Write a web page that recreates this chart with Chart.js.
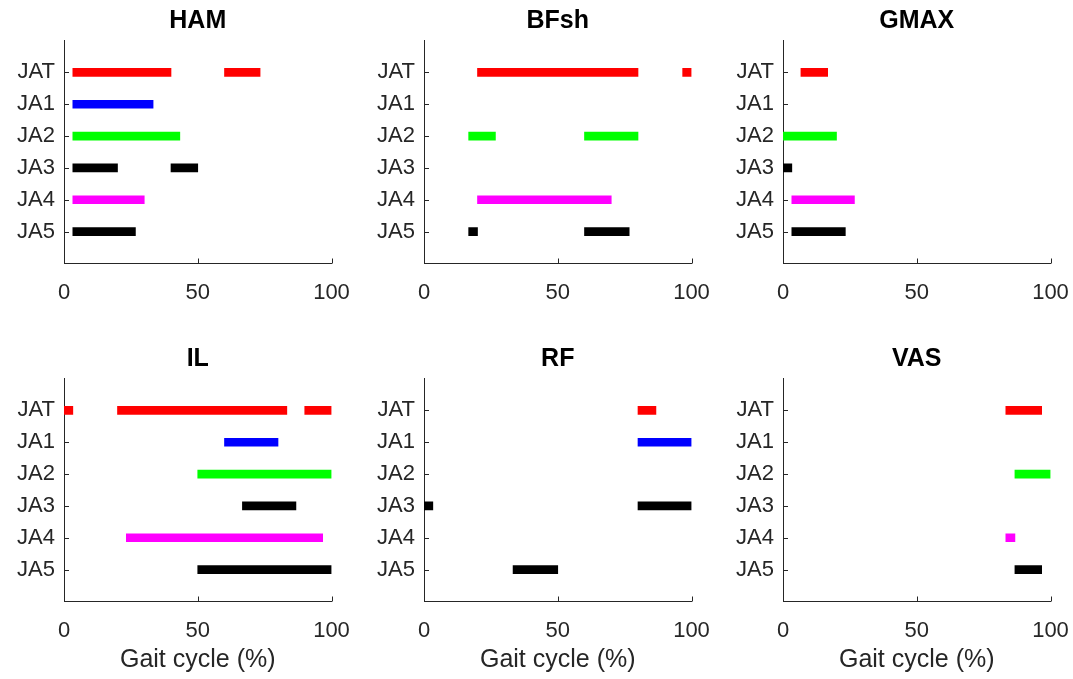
<!DOCTYPE html>
<html>
<head>
<meta charset="utf-8">
<script src="https://cdn.jsdelivr.net/npm/chart.js@4.4.1/dist/chart.umd.min.js"></script>
<style>
  html, body { margin: 0; padding: 0; background: #fff; overflow: hidden; }
  #wrap { position: relative; width: 1073px; height: 679px; overflow: hidden; }
  #wrap canvas { position: absolute; }
</style>
</head>
<body>
<div id="wrap"></div>
<script>
const categories = ['JAT', 'JA1', 'JA2', 'JA3', 'JA4', 'JA5'];
const rowColors = ['#ff0000', '#0000ff', '#00ff00', '#000000', '#ff00ff', '#000000'];
const muscles = ['HAM', 'BFsh', 'GMAX', 'IL', 'RF', 'VAS'];
const xTicks = [0, 50, 100];
const xLabel = 'Gait cycle (%)';

// active windows per category, [start, end] in % gait cycle
const ham = [
  [[3.3, 40], [60, 73.3]],
  [[3.3, 33.3]],
  [[3.3, 43.3]],
  [[3.3, 20], [40, 50]],
  [[3.3, 30]],
  [[3.3, 26.7]]
];
const bfsh = [
  [[20, 80], [96.7, 100]],
  [],
  [[16.7, 26.7], [60, 80]],
  [],
  [[20, 70]],
  [[16.7, 20], [60, 76.7]]
];
const gmax = [
  [[6.7, 16.7]],
  [],
  [[0, 20]],
  [[0, 3.3]],
  [[3.3, 26.7]],
  [[3.3, 23.3]]
];
const il = [
  [[0, 3.3], [20, 83.3], [90, 100]],
  [[60, 80]],
  [[50, 100]],
  [[66.7, 86.7]],
  [[23.3, 96.7]],
  [[50, 100]]
];
const rf = [
  [[80, 86.7]],
  [[80, 100]],
  [],
  [[0, 3.3], [80, 100]],
  [],
  [[33.3, 50]]
];
const vas = [
  [[83.3, 96.7]],
  [],
  [[86.7, 100]],
  [],
  [[83.3, 86.7]],
  [[86.7, 96.7]]
];
const segments = [ham, bfsh, gmax, il, rf, vas];

const FONT = "'Liberation Sans', Arial, Helvetica, sans-serif";
const AXIS = '#262626';

// inward tick marks like the original
const innerTicks = {
  id: 'innerTicks',
  beforeDatasetsDraw(chart) {
    const { ctx, chartArea: a, scales: { x, y } } = chart;
    ctx.save();
    ctx.strokeStyle = AXIS;
    ctx.lineWidth = 1;
    ctx.beginPath();
    y.ticks.forEach((t, i) => {
      if (!t.label) return;
      const py = Math.round(y.getPixelForTick(i)) + 0.5;
      ctx.moveTo(a.left, py);
      ctx.lineTo(a.left + 5, py);
    });
    x.ticks.forEach((t, i) => {
      const px = Math.round(x.getPixelForTick(i)) + 0.5;
      ctx.moveTo(px, a.bottom);
      ctx.lineTo(px, a.bottom - 5);
    });
    ctx.stroke();
    ctx.restore();
  }
};

const wrap = document.getElementById('wrap');
const labels = ['', ...categories, ''];

muscles.forEach((name, m) => {
  const col = m % 3, row = Math.floor(m / 3);
  const segs = segments[m];
  const canvas = document.createElement('canvas');
  const left = [0, 360, 719][col];
  const top = row === 0 ? 0 : 338;
  const h = row === 0 ? 320 : 341;
  canvas.width = 367;
  canvas.height = h;
  canvas.style.left = left + 'px';
  canvas.style.top = top + 'px';
  wrap.appendChild(canvas);

  const nSeg = Math.max(...segs.map(s => s.length));
  const datasets = [];
  for (let k = 0; k < nSeg; k++) {
    datasets.push({
      data: labels.map((_, i) => (i === 0 || i === labels.length - 1) ? null : (segs[i - 1][k] || null)),
      backgroundColor: labels.map((_, i) => rowColors[i - 1] || 'transparent'),
      borderWidth: 0,
      barThickness: 8,
      grouped: false
    });
  }

  new Chart(canvas, {
    type: 'bar',
    data: { labels, datasets },
    plugins: [innerTicks],
    options: {
      indexAxis: 'y',
      responsive: false,
      animation: false,
      devicePixelRatio: 1,
      layout: { padding: { left: 0, right: 35.5, top: 0, bottom: 0 } },
      plugins: {
        legend: { display: false },
        tooltip: { enabled: false },
        title: {
          display: true,
          text: name,
          fullSize: false,
          color: '#000',
          font: { family: FONT, size: 25, weight: 'bold' },
          padding: { top: 6.5, bottom: 4 }
        }
      },
      scales: {
        y: {
          type: 'category',
          offset: false,
          grid: { display: false, drawTicks: false },
          border: { display: true, color: AXIS, width: 1 },
          ticks: { color: AXIS, padding: 9, font: { family: FONT, size: 22 }, autoSkip: false },
          afterFit: s => { s.width = 64; }
        },
        x: {
          type: 'linear',
          min: 0,
          max: 100,
          afterBuildTicks: s => { s.ticks = xTicks.map(v => ({ value: v })); },
          grid: { display: false, drawTicks: false },
          border: { display: true, color: AXIS, width: 1 },
          ticks: { color: AXIS, padding: 16, font: { family: FONT, size: 22 }, maxRotation: 0 },
          title: {
            display: row === 1,
            text: xLabel,
            color: AXIS,
            font: { family: FONT, size: 25 },
            padding: { top: 0, bottom: 4 }
          },
          afterFit: s => { s.height = h - 263.5; }
        }
      }
    }
  });
});
</script>
</body>
</html>
